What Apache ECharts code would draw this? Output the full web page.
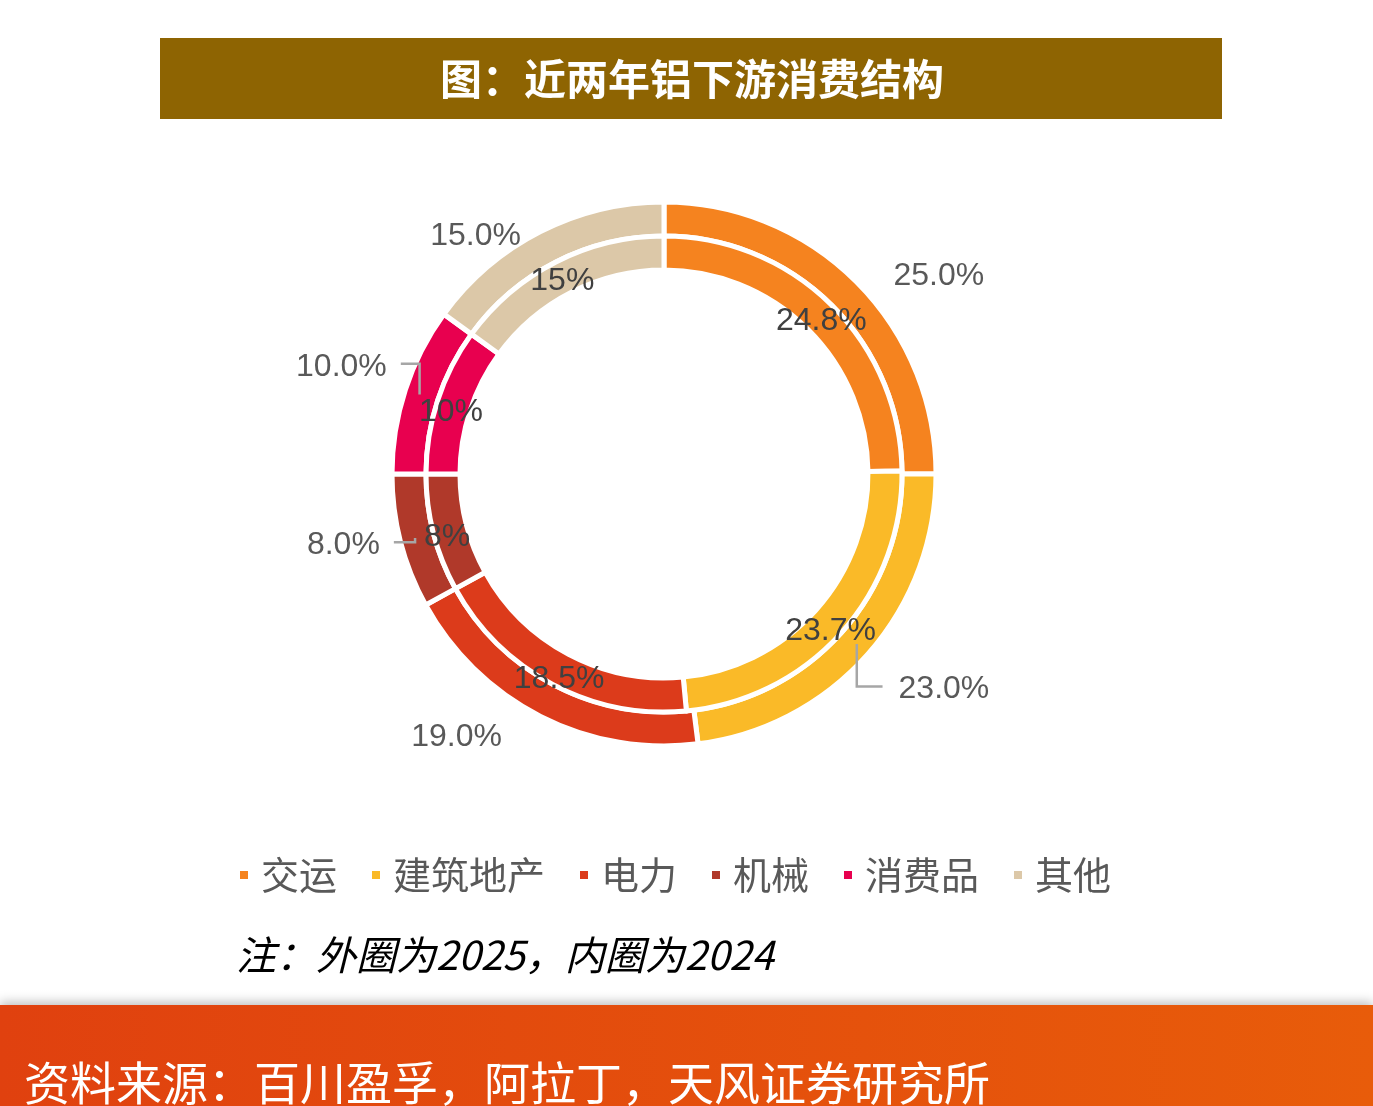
<!DOCTYPE html>
<html>
<head>
    <meta charset="utf-8"/>
    <title>铝下游消费结构</title>
    <script src="https://cdn.jsdelivr.net/npm/echarts@6/dist/echarts.min.js"></script>
    <style type="text/css">
        html, body { margin: 0; padding: 0; background: #fff; }
        #main { width: 1373px; height: 1106px; }
    </style>
</head>
<body>
<div id="main"></div>
<script type="text/javascript">
    // 数据
    var categories = ['交运', '建筑地产', '电力', '机械', '消费品', '其他'];
    var outer2025 = [25.0, 23.0, 19.0, 8.0, 10.0, 15.0];
    var inner2024 = [24.8, 23.7, 18.5, 8, 10, 15];
    var innerText = ['24.8%', '23.7%', '18.5%', '8%', '10%', '15%'];

    var colors = ['#F5831F', '#FABA28', '#DC3B1B', '#B0392A', '#E8004F', '#DCC8A8'];
    var center = [664, 474];
    // 外圈标签微调（相对默认位置的偏移）和引导线开关
    var outerShift = [[15, 2], [8, 29], [-19, 12], [4, 1], [6, -20], [0, 13]];
    var outerLine = [false, true, false, true, true, false];

    var numFont = '"Liberation Sans Narrow", "Arial Narrow", "Liberation Sans", sans-serif';
    var cjkFont = '"Noto Sans CJK SC", sans-serif';

    var myChart = echarts.init(document.getElementById('main'));

    var outerData = [], innerData = [], labelData = [];
    for (var i = 0; i < categories.length; i++) {
        outerData.push({ name: categories[i], value: outer2025[i] });
        innerData.push({ name: categories[i], value: inner2024[i] });
        labelData.push({
            name: categories[i],
            value: outer2025[i],
            labelLine: { show: outerLine[i] }
        });
    }

    var option = {
        backgroundColor: '#fff',
        animation: false,
        color: colors,
        legend: {
            left: 238,
            top: 856,
            padding: 0,
            itemWidth: 10,
            itemHeight: 10,
            itemGap: 33,
            icon: 'rect',
            data: categories,
            textStyle: {
                fontFamily: cjkFont,
                fontSize: 38,
                color: '#595959',
                padding: [0, 0, 0, 7]
            }
        },
        graphic: [
            {
                type: 'rect',
                shape: { x: 160, y: 38, width: 1062, height: 81 },
                style: { fill: '#8E6402' }
            },
            {
                type: 'text',
                x: 692, y: 79,
                style: {
                    text: '图：近两年铝下游消费结构',
                    fill: '#fff',
                    font: 'bold 42px ' + cjkFont,
                    align: 'center',
                    verticalAlign: 'middle'
                }
            },
            {
                type: 'text',
                x: 236, y: 955,
                style: {
                    text: '注：外圈为2025，内圈为2024',
                    fill: '#000',
                    font: 'italic 40px ' + cjkFont,
                    align: 'left',
                    verticalAlign: 'middle'
                }
            },
            {
                type: 'rect',
                shape: { x: 0, y: 1005, width: 1373, height: 110 },
                style: {
                    fill: new echarts.graphic.LinearGradient(0, 0, 1, 0, [
                        { offset: 0, color: '#E0410F' },
                        { offset: 1, color: '#E85C0A' }
                    ]),
                    shadowBlur: 10,
                    shadowOffsetY: -3,
                    shadowColor: 'rgba(0,0,0,0.25)'
                }
            },
            {
                type: 'text',
                x: 24, y: 1060,
                style: {
                    text: '资料来源：百川盈孚，阿拉丁，天风证券研究所',
                    fill: '#fff',
                    font: '46px ' + cjkFont,
                    align: 'left',
                    verticalAlign: 'top'
                }
            }
        ],
        series: [
            {
                name: '2025',
                type: 'pie',
                center: center,
                radius: [238, 272],
                startAngle: 90,
                clockwise: true,
                itemStyle: { borderColor: '#fff', borderWidth: 5 },
                label: { show: false },
                labelLine: { show: false },
                emphasis: { disabled: true },
                data: outerData
            },
            {
                name: '2024',
                type: 'pie',
                center: center,
                radius: [204, 238],
                startAngle: 90,
                clockwise: true,
                avoidLabelOverlap: false,
                itemStyle: { borderColor: '#fff', borderWidth: 5 },
                label: {
                    position: 'inside',
                    formatter: function (p) { return innerText[p.dataIndex]; },
                    fontFamily: numFont,
                    fontSize: 32,
                    color: '#404040'
                },
                labelLine: { show: false },
                labelLayout: function (p) {
                    var r = p.labelRect;
                    return { y: r.y + r.height / 2 + 7, verticalAlign: 'middle' };
                },
                emphasis: { disabled: true },
                data: innerData
            },
            {
                // 外圈标签单独一层，让引导线压在圆环上面
                name: '2025标签',
                type: 'pie',
                z: 5,
                center: center,
                radius: [238, 272],
                startAngle: 90,
                clockwise: true,
                silent: true,
                avoidLabelOverlap: false,
                itemStyle: { color: 'rgba(0,0,0,0)', borderWidth: 0 },
                label: {
                    position: 'outside',
                    formatter: function (p) { return p.value.toFixed(1) + '%'; },
                    fontFamily: numFont,
                    fontSize: 32,
                    color: '#595959'
                },
                labelLine: {
                    length: 10,
                    length2: 10,
                    lineStyle: { color: '#A6A6A6', width: 2.5 }
                },
                labelLayout: function (p) {
                    var s = outerShift[p.dataIndex];
                    var r = p.labelRect;
                    var onLeft = r.x + r.width / 2 < center[0];
                    var x = (onLeft ? r.x + r.width : r.x) + s[0];
                    var y = r.y + r.height / 2 + s[1];
                    var res = {
                        x: x, y: y,
                        align: onLeft ? 'right' : 'left',
                        verticalAlign: 'middle'
                    };
                    var pts = p.labelLinePoints;
                    if (pts && outerLine[p.dataIndex]) {
                        // 引导线从环中部出发，竖直到标签高度再水平接到标签
                        var vx = pts[0][0] - center[0], vy = pts[0][1] - center[1];
                        var len = Math.sqrt(vx * vx + vy * vy);
                        var sx = center[0] + vx / len * 257, sy = center[1] + vy / len * 257;
                        var ly = y - 3;
                        var ex = onLeft ? x + 14 : x - 16;
                        res.labelLinePoints = [[sx, sy], [sx, ly], [ex, ly]];
                    }
                    return res;
                },
                emphasis: { disabled: true },
                data: labelData
            }
        ]
    };
    myChart.setOption(option);
</script>
</body>
</html>
